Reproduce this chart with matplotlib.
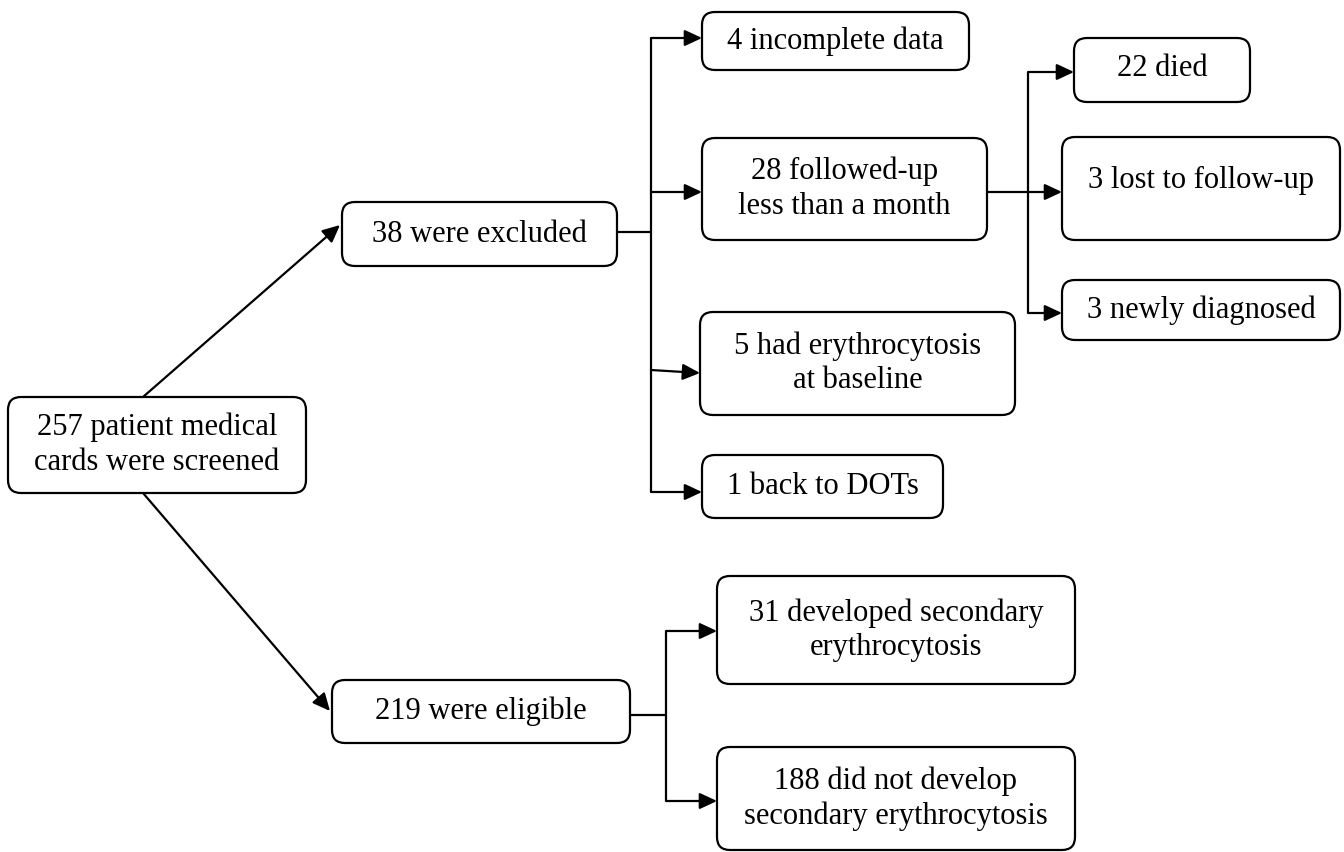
import matplotlib
matplotlib.use("Agg")
import matplotlib.pyplot as plt
from matplotlib.patches import FancyBboxPatch

# ---- content ----
screened_label = "257 patient medical\ncards were screened"
excluded_label = "38 were excluded"
eligible_label = "219 were eligible"
excluded_reasons = ["4 incomplete data", "28 followed-up\nless than a month",
                    "5 had erythrocytosis\nat baseline", "1 back to DOTs"]
followup_reasons = ["22 died", "3 lost to follow-up", "3 newly diagnosed"]
eligible_outcomes = ["31 developed secondary\nerythrocytosis",
                     "188 did not develop\nsecondary erythrocytosis"]

# ---- layout (pixel coords: x0, y0, x1, y1) ----
W, H = 1344, 852
fig = plt.figure(figsize=(W / 100, H / 100), dpi=100)
ax = fig.add_axes([0, 0, 1, 1])
ax.set_xlim(0, W)
ax.set_ylim(H, 0)
ax.axis("off")

FONT = "Liberation Serif"
FS = 22
LW = 1.6


def box(x0, y0, x1, y1, text, ty=None):
    p = FancyBboxPatch((x0, y0), x1 - x0, y1 - y0,
                       boxstyle="round,pad=0,rounding_size=13",
                       fc="white", ec="black", lw=LW)
    ax.add_patch(p)
    cy = (y0 + y1) / 2 if ty is None else ty
    ax.text((x0 + x1) / 2, cy, text, ha="center", va="center",
            fontsize=FS, family=FONT, linespacing=1.25)


def arrow(x0, y0, x1, y1):
    ax.annotate("", xy=(x1, y1), xytext=(x0, y0),
                arrowprops=dict(arrowstyle="-|>,head_length=0.75,head_width=0.35",
                                lw=LW, color="black", shrinkA=0, shrinkB=0,
                                mutation_scale=14))


def line(xs, ys):
    ax.plot(xs, ys, color="black", lw=LW, solid_capstyle="butt")


# main boxes
box(8, 397, 306, 493, screened_label)
box(342, 202, 617, 266, excluded_label)
box(332, 680, 630, 743, eligible_label)

# excluded reasons
ex_boxes = [(702, 12, 969, 70), (702, 138, 987, 240),
            (700, 312, 1015, 415), (702, 455, 943, 518)]
ex_arrow_y = [38, 192, 373, 492]
for (b, t, yy) in zip(ex_boxes, excluded_reasons, ex_arrow_y):
    box(*b, t)

# follow-up reasons
fu_boxes = [(1074, 38, 1250, 102), (1062, 137, 1340, 240), (1062, 280, 1340, 340)]
fu_arrow_y = [72, 192, 313]
fu_text_y = [69, 180, 310]
for b, t, ty in zip(fu_boxes, followup_reasons, fu_text_y):
    box(*b, t, ty=ty)

# eligible outcomes
el_boxes = [(717, 576, 1075, 684), (717, 747, 1075, 850)]
el_arrow_y = [631, 801]
for b, t in zip(el_boxes, eligible_outcomes):
    box(*b, t)

# connectors: screened -> excluded / eligible
arrow(143, 397, 340, 225)
arrow(143, 493, 330, 711)

# excluded tree
line([617, 651], [232, 232])
line([651, 651], [ex_arrow_y[0], ex_arrow_y[-1]])
for (b, yy) in zip(ex_boxes, ex_arrow_y):
    y0 = yy - 3 if yy == 373 else yy
    arrow(651, y0, b[0], yy)

# follow-up tree
line([987, 1028], [192, 192])
line([1028, 1028], [fu_arrow_y[0], fu_arrow_y[-1]])
for b, yy in zip(fu_boxes, fu_arrow_y):
    arrow(1028, yy, b[0], yy)

# eligible tree
line([630, 666], [715, 715])
line([666, 666], [el_arrow_y[0], el_arrow_y[-1]])
for b, yy in zip(el_boxes, el_arrow_y):
    arrow(666, yy, b[0], yy)

fig.savefig("out.png", dpi=100, facecolor="white")
